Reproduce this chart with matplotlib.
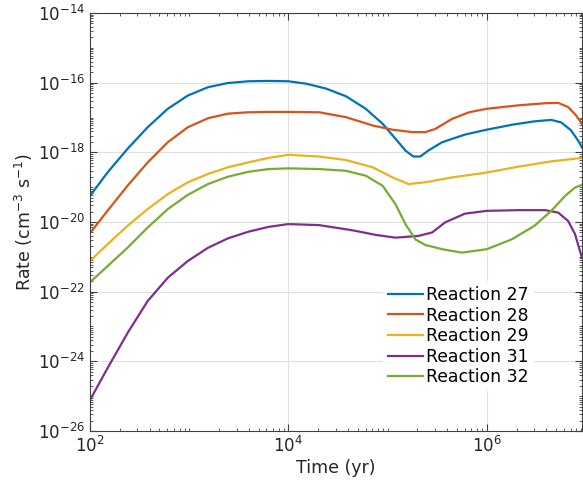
import numpy as np
import matplotlib
matplotlib.use("Agg")
import matplotlib.pyplot as plt
from matplotlib.ticker import LogLocator, NullFormatter

# values, stored as exponents:
# log10 of time (yr) and log10 of rate (cm^-3 s^-1)
early = [2.0, 2.176, 2.378, 2.581, 2.784, 2.986, 3.19, 3.39, 3.595, 3.80, 4.0]

lt27 = early + [4.18, 4.38, 4.58, 4.78, 4.95, 5.08, 5.18, 5.26, 5.33, 5.41, 5.55, 5.78,
                6.0, 6.25, 6.48, 6.65, 6.75, 6.85, 6.92, 6.96]
lr27 = [-19.25, -18.58, -17.90, -17.28, -16.75, -16.37, -16.13, -16.01, -15.96, -15.95,
        -15.96, -16.03, -16.17, -16.39, -16.75, -17.18, -17.61, -17.95, -18.12, -18.12,
        -17.95, -17.71, -17.49, -17.35, -17.21, -17.11, -17.07, -17.14, -17.37, -17.66,
        -17.86]

lt28 = early + [4.31, 4.58, 4.85, 5.05, 5.25, 5.38, 5.48, 5.65, 5.82, 6.0, 6.32, 6.59,
                6.72, 6.82, 6.90, 6.96]
lr28 = [-20.32, -19.68, -18.96, -18.29, -17.71, -17.28, -17.02, -16.89, -16.85, -16.84,
        -16.84, -16.85, -16.99, -17.23, -17.35, -17.42, -17.42, -17.33, -17.04, -16.85,
        -16.75, -16.65, -16.59, -16.58, -16.70, -16.94, -17.18]

lt29 = early + [4.31, 4.58, 4.85, 5.05, 5.21, 5.38, 5.65, 6.0, 6.32, 6.65, 6.96]
lr29 = [-21.12, -20.64, -20.11, -19.63, -19.20, -18.86, -18.62, -18.43, -18.29, -18.16,
        -18.07, -18.12, -18.22, -18.43, -18.72, -18.91, -18.86, -18.72, -18.58, -18.41,
        -18.26, -18.16]

lt31 = early + [4.31, 4.65, 4.88, 5.08, 5.31, 5.45, 5.58, 5.78, 6.0, 6.32, 6.59, 6.72,
                6.82, 6.89, 6.96]
lr31 = [-25.11, -24.20, -23.19, -22.27, -21.60, -21.12, -20.74, -20.47, -20.28, -20.14,
        -20.06, -20.09, -20.24, -20.37, -20.45, -20.40, -20.30, -20.01, -19.76, -19.68,
        -19.66, -19.66, -19.73, -19.97, -20.35, -21.03]

lt32 = early + [4.31, 4.58, 4.78, 4.95, 5.08, 5.18, 5.28, 5.38, 5.55, 5.75, 6.0, 6.25,
                6.48, 6.65, 6.79, 6.89, 6.96]
lr32 = [-21.73, -21.27, -20.74, -20.16, -19.63, -19.22, -18.91, -18.70, -18.56, -18.48,
        -18.46, -18.48, -18.53, -18.67, -18.96, -19.49, -20.06, -20.50, -20.66, -20.78,
        -20.88, -20.78, -20.50, -20.11, -19.68, -19.25, -19.01, -18.93]

labels = ["Reaction 27", "Reaction 28", "Reaction 29", "Reaction 31", "Reaction 32"]
colors = ["#0072BD", "#D95319", "#EDB120", "#7E2F8E", "#77AC30"]

fig = plt.figure(figsize=(5.83, 4.92), dpi=100)
ax = fig.add_axes([90 / 583, 61 / 492, 492 / 583, 418 / 492])

series = [(lt27, lr27), (lt28, lr28), (lt29, lr29), (lt31, lr31), (lt32, lr32)]
for (lt, lr), lab, c in zip(series, labels, colors):
    ax.plot(10.0 ** np.array(lt), 10.0 ** np.array(lr), color=c, lw=1.6, label=lab,
            solid_joinstyle="round")

ax.set_xscale("log")
ax.set_yscale("log")
ax.set_xlim(1e2, 10 ** 6.96)
ax.set_ylim(1e-26, 1e-14)

ax.xaxis.set_major_locator(LogLocator(base=100, numticks=10))
ax.yaxis.set_major_locator(LogLocator(base=100, numticks=10))
ax.xaxis.set_minor_locator(LogLocator(base=10, subs=np.arange(1, 10), numticks=100))
ax.yaxis.set_minor_locator(LogLocator(base=10, subs=np.arange(1, 10), numticks=100))
ax.xaxis.set_minor_formatter(NullFormatter())
ax.yaxis.set_minor_formatter(NullFormatter())

ax.grid(True, which="major", color="#e0e0e0", lw=0.8)
ax.set_axisbelow(True)
ax.tick_params(which="both", direction="in", top=True, right=True, colors="#404040",
               labelcolor="#262626", labelsize=12)
ax.tick_params(which="major", length=5)
ax.tick_params(which="minor", length=2.5)
for s in ax.spines.values():
    s.set_color("#404040")
    s.set_linewidth(0.8)

ax.set_xlabel("Time (yr)", fontsize=12.5, color="#262626", labelpad=2)
ax.set_ylabel("Rate (cm$^{-3}$ s$^{-1}$)", fontsize=12.5, color="#262626", labelpad=2)

leg = ax.legend(loc="upper left", bbox_to_anchor=(0.578, 0.38), fontsize=12.4,
                handlelength=2.0, handletextpad=0.2, labelspacing=0.15,
                borderpad=0.3, frameon=True, fancybox=False)
leg.get_frame().set_edgecolor("none")
leg.get_frame().set_facecolor("white")
leg.get_frame().set_alpha(1)

fig.savefig("out.png", dpi=100)
